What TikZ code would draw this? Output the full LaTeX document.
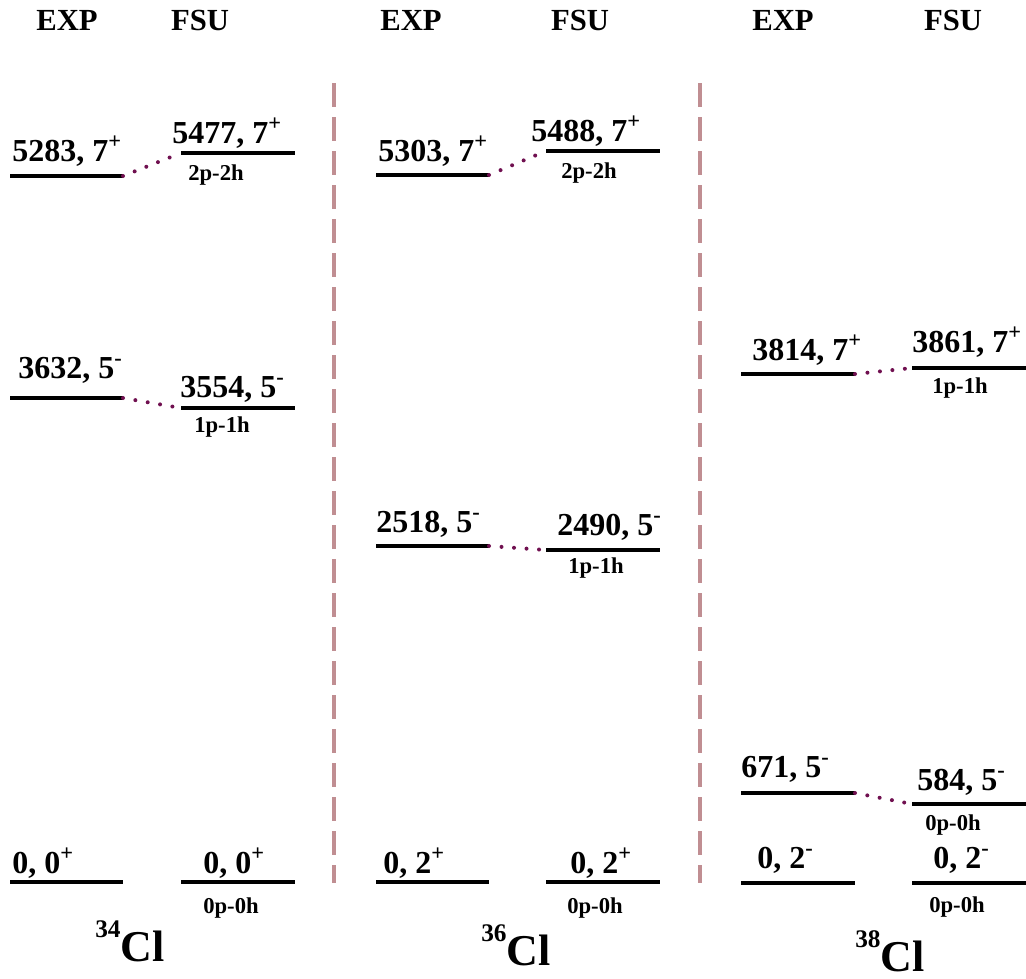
\documentclass[tikz,border=0pt]{standalone}
\usepackage{fontspec}
\setmainfont{Liberation Serif}
\definecolor{dotc}{RGB}{112,16,80}
\definecolor{sepc}{RGB}{192,142,146}
\begin{document}
\begin{tikzpicture}[x=0.75pt,y=-0.75pt,
  lvl/.style={line width=2.3pt},
  conn/.style={draw=dotc,line width=3pt,line cap=round,dash pattern=on 0pt off 9.4pt},
  lab/.style={anchor=base west,inner sep=0pt,font=\fontsize{24}{24}\selectfont\bfseries},
  cfg/.style={anchor=base west,inner sep=0pt,font=\fontsize{17}{17}\selectfont\bfseries},
  hdr/.style={anchor=base,inner sep=0pt,font=\fontsize{23}{23}\selectfont\bfseries},
  nuc/.style={anchor=base west,inner sep=0pt,font=\fontsize{33}{33}\selectfont\bfseries},
  sepline/.style={draw=sepc,line width=2.6pt,dash pattern=on 18pt off 7.5pt}]
\useasboundingbox (0,0) rectangle (1026,979);
% headers
\node[hdr] (h1) at (67,30) {EXP};
\node[hdr] (h2) at (200,30) {FSU};
\node[hdr] (h3) at (411,30) {EXP};
\node[hdr] (h4) at (580,30) {FSU};
\node[hdr] (h5) at (783,30) {EXP};
\node[hdr] (h6) at (953,30) {FSU};
% separators
\coordinate (s1a) at (334,83); \coordinate (s1b) at (334,883);
\coordinate (s2a) at (700,83); \coordinate (s2b) at (700,883);
\draw[sepline] (s1a) -- (s1b);
\draw[sepline] (s2a) -- (s2b);
% ---------- 34Cl ----------
\coordinate (a1l) at (10,176); \coordinate (a1r) at (123,176);
\coordinate (b1l) at (181,153); \coordinate (b1r) at (295,153);
\coordinate (a2l) at (10,398); \coordinate (a2r) at (123,398);
\coordinate (b2l) at (181,408); \coordinate (b2r) at (295,408);
\coordinate (a3l) at (10,882); \coordinate (a3r) at (123,882);
\coordinate (b3l) at (181,882); \coordinate (b3r) at (295,882);
\foreach \p in {a1,b1,a2,b2,a3,b3} \draw[lvl] (\p l) -- (\p r);
\draw[conn] (a1r) -- (b1l);
\draw[conn] (a2r) -- (b2l);
\node[lab] (la1) at (12,161) {5283, 7\textsuperscript{+}};
\node[lab] (lb1) at (172,143) {5477, 7\textsuperscript{+}};
\node[cfg] (cb1) at (188,180) {2p-2h};
\node[lab] (la2) at (18,378) {3632, 5\textsuperscript{-}};
\node[lab] (lb2) at (180,397) {3554, 5\textsuperscript{-}};
\node[cfg] (cb2) at (194,432) {1p-1h};
\node[lab] (la3) at (12,873) {0, 0\textsuperscript{+}};
\node[lab] (lb3) at (203,873) {0, 0\textsuperscript{+}};
\node[cfg] (cb3) at (203,913) {0p-0h};
\node[nuc] (n1) at (95,961) {{\fontsize{19}{19}\selectfont\raisebox{18pt}{34}}Cl};
% ---------- 36Cl ----------
\coordinate (c1l) at (376,175); \coordinate (c1r) at (489,175);
\coordinate (d1l) at (546,151); \coordinate (d1r) at (660,151);
\coordinate (c2l) at (376,546); \coordinate (c2r) at (489,546);
\coordinate (d2l) at (546,550); \coordinate (d2r) at (660,550);
\coordinate (c3l) at (376,882); \coordinate (c3r) at (489,882);
\coordinate (d3l) at (546,882); \coordinate (d3r) at (660,882);
\foreach \p in {c1,d1,c2,d2,c3,d3} \draw[lvl] (\p l) -- (\p r);
\draw[conn] (c1r) -- (d1l);
\draw[conn] (c2r) -- (d2l);
\node[lab] (lc1) at (378,161) {5303, 7\textsuperscript{+}};
\node[lab] (ld1) at (531,141) {5488, 7\textsuperscript{+}};
\node[cfg] (cd1) at (561,178) {2p-2h};
\node[lab] (lc2) at (376,532) {2518, 5\textsuperscript{-}};
\node[lab] (ld2) at (557,535) {2490, 5\textsuperscript{-}};
\node[cfg] (cd2) at (568,573) {1p-1h};
\node[lab] (lc3) at (383,873) {0, 2\textsuperscript{+}};
\node[lab] (ld3) at (570,873) {0, 2\textsuperscript{+}};
\node[cfg] (cd3) at (567,913) {0p-0h};
\node[nuc] (n2) at (481,965) {{\fontsize{19}{19}\selectfont\raisebox{18pt}{36}}Cl};
% ---------- 38Cl ----------
\coordinate (e1l) at (741,374); \coordinate (e1r) at (855,374);
\coordinate (f1l) at (912,368); \coordinate (f1r) at (1026,368);
\coordinate (e2l) at (741,793); \coordinate (e2r) at (855,793);
\coordinate (f2l) at (912,804); \coordinate (f2r) at (1026,804);
\coordinate (e3l) at (741,883); \coordinate (e3r) at (855,883);
\coordinate (f3l) at (912,883); \coordinate (f3r) at (1026,883);
\foreach \p in {e1,f1,e2,f2,e3,f3} \draw[lvl] (\p l) -- (\p r);
\draw[conn] (e1r) -- (f1l);
\draw[conn] (e2r) -- (f2l);
\node[lab] (le1) at (752,360) {3814, 7\textsuperscript{+}};
\node[lab] (lf1) at (912,352) {3861, 7\textsuperscript{+}};
\node[cfg] (cf1) at (932,393) {1p-1h};
\node[lab] (le2) at (741,777) {671, 5\textsuperscript{-}};
\node[lab] (lf2) at (917,790) {584, 5\textsuperscript{-}};
\node[cfg] (cf2) at (925,830) {0p-0h};
\node[lab] (le3) at (757,868) {0, 2\textsuperscript{-}};
\node[lab] (lf3) at (933,868) {0, 2\textsuperscript{-}};
\node[cfg] (cf3) at (929,912) {0p-0h};
\node[nuc] (n3) at (855,971) {{\fontsize{19}{19}\selectfont\raisebox{18pt}{38}}Cl};
\end{tikzpicture}
\end{document}
